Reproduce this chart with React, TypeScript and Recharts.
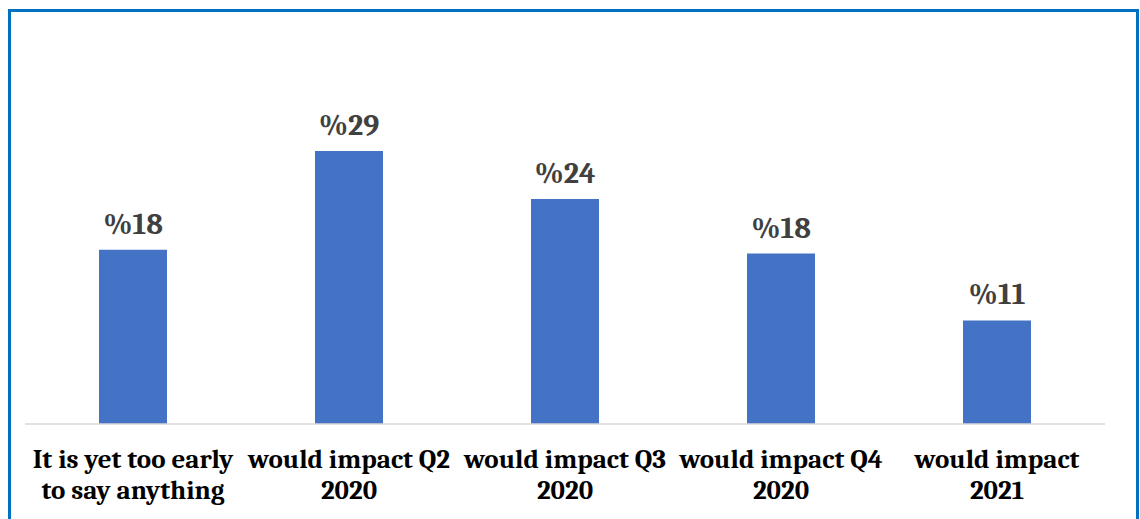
import { BarChart, Bar, XAxis, YAxis, LabelList } from 'recharts'

const categoriesLine1 = ['It is yet too early', 'would impact Q2', 'would impact Q3', 'would impact Q4', 'would impact']
const categoriesLine2 = ['to say anything', '2020', '2020', '2020', '2021']
const shares = [18.5, 29, 23.9, 18.1, 11]
const valueLabels = ['%18', '%29', '%24', '%18', '%11']

const data = shares.map((v, i) => ({ name: categoriesLine1[i], value: v }))

const FONT = "Cambria, 'Liberation Serif', serif"

function CategoryTick(props: any) {
  const { x, y, index } = props
  return (
    <text x={x} y={y + 44} textAnchor="middle" fontFamily={FONT} fontWeight={700} fontSize={27} fill="#000">
      <tspan x={x}>{categoriesLine1[index]}</tspan>
      <tspan x={x} dy={31}>{categoriesLine2[index]}</tspan>
    </text>
  )
}

function ValueLabel(props: any) {
  const { x, y, width, index } = props
  return (
    <text x={x + width / 2} y={y - 16} textAnchor="middle" fontFamily={FONT} fontWeight={700} fontSize={30} fill="#404040">
      {valueLabels[index]}
    </text>
  )
}

export default function App() {
  return (
    <div style={{ position: 'absolute', left: 0, top: 0, width: 1140, height: 519, overflow: 'hidden', background: '#fff' }}>
      <div
        style={{
          position: 'absolute',
          left: 8,
          top: 9,
          width: 1131,
          height: 540,
          border: '3px solid #0070C0',
          boxSizing: 'border-box',
        }}
      />
      <div style={{ position: 'absolute', left: 0, top: 0 }}>
        <BarChart width={1140} height={519} data={data} margin={{ top: 94.5, right: 35, left: 25, bottom: 0 }}>
          <XAxis
            dataKey="name"
            height={95}
            interval={0}
            tickLine={false}
            tickSize={0}
            tickMargin={0}
            axisLine={{ stroke: '#d9d9d9', strokeWidth: 1.5 }}
            tick={<CategoryTick />}
          />
          <YAxis hide domain={[0, 35]} />
          <Bar dataKey="value" fill="#4472C4" barSize={68} isAnimationActive={false}>
            <LabelList dataKey="value" content={<ValueLabel />} />
          </Bar>
        </BarChart>
      </div>
    </div>
  )
}
